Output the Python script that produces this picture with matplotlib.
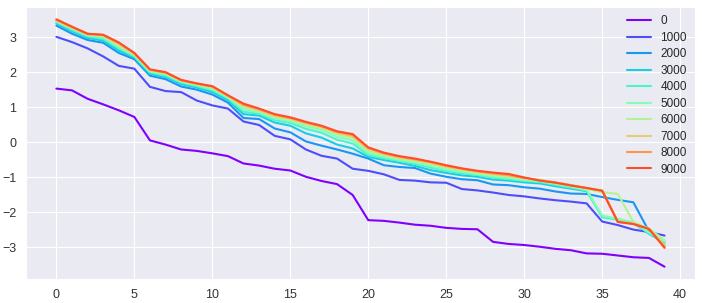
import matplotlib
matplotlib.use('Agg')
import matplotlib.pyplot as plt
import seaborn as sns
import numpy as np

labels = ['0', '1000', '2000', '3000', '4000', '5000', '6000', '7000', '8000', '9000']

s0 = [1.53, 1.48, 1.24, 1.08, 0.91, 0.72, 0.05, -0.07, -0.21, -0.25,
      -0.32, -0.40, -0.61, -0.67, -0.76, -0.81, -0.99, -1.11, -1.20, -1.51,
      -2.23, -2.25, -2.30, -2.36, -2.39, -2.45, -2.48, -2.49, -2.85, -2.91,
      -2.94, -2.99, -3.05, -3.09, -3.18, -3.19, -3.24, -3.29, -3.31, -3.56]
s1000 = [3.01, 2.86, 2.68, 2.45, 2.18, 2.10, 1.58, 1.46, 1.43, 1.19,
         1.05, 0.96, 0.59, 0.49, 0.18, 0.08, -0.21, -0.39, -0.47, -0.76,
         -0.82, -0.92, -1.08, -1.10, -1.15, -1.16, -1.34, -1.38, -1.44, -1.51,
         -1.55, -1.61, -1.66, -1.70, -1.75, -2.27, -2.37, -2.50, -2.57, -2.67]
s2000 = [3.33, 3.10, 2.92, 2.84, 2.55, 2.37, 1.90, 1.80, 1.59, 1.50,
         1.36, 1.13, 0.69, 0.66, 0.39, 0.28, 0.02, -0.10, -0.21, -0.33,
         -0.47, -0.66, -0.71, -0.74, -0.90, -0.99, -1.06, -1.09, -1.21, -1.23,
         -1.29, -1.33, -1.41, -1.47, -1.48, -1.57, -1.65, -1.72, -2.55, -2.95]
s3000 = [3.39, 3.17, 2.98, 2.90, 2.62, 2.42, 1.95, 1.86, 1.66, 1.56,
         1.43, 1.20, 0.80, 0.76, 0.56, 0.47, 0.25, 0.13, -0.07, -0.18,
         -0.42, -0.51, -0.59, -0.68, -0.80, -0.88, -0.95, -0.99, -1.07, -1.10,
         -1.15, -1.18, -1.26, -1.33, -1.40, -2.12, -2.20, -2.31, -2.62, -2.87]
s4000 = [3.43, 3.21, 3.02, 2.95, 2.68, 2.45, 1.99, 1.90, 1.70, 1.60,
         1.48, 1.25, 0.87, 0.81, 0.63, 0.55, 0.38, 0.27, 0.07, -0.04,
         -0.37, -0.46, -0.54, -0.62, -0.73, -0.82, -0.89, -0.94, -1.02, -1.06,
         -1.11, -1.14, -1.22, -1.30, -1.38, -2.15, -2.22, -2.30, -2.60, -2.82]
s5000 = [3.45, 3.24, 3.05, 3.00, 2.72, 2.48, 2.02, 1.94, 1.73, 1.63,
         1.52, 1.28, 0.94, 0.85, 0.68, 0.60, 0.45, 0.35, 0.15, 0.05,
         -0.31, -0.42, -0.51, -0.58, -0.68, -0.78, -0.85, -0.91, -0.98, -1.02,
         -1.08, -1.12, -1.19, -1.27, -1.36, -2.10, -2.19, -2.29, -2.58, -2.85]
s6000 = [3.47, 3.26, 3.07, 3.03, 2.76, 2.50, 2.04, 1.96, 1.75, 1.65,
         1.55, 1.30, 1.00, 0.89, 0.72, 0.64, 0.50, 0.40, 0.22, 0.12,
         -0.25, -0.38, -0.47, -0.54, -0.63, -0.73, -0.81, -0.88, -0.94, -0.99,
         -1.05, -1.10, -1.17, -1.25, -1.34, -1.43, -1.48, -2.28, -2.47, -2.80]
s7000 = [3.48, 3.27, 3.08, 3.05, 2.80, 2.52, 2.06, 1.98, 1.76, 1.66,
         1.57, 1.32, 1.04, 0.92, 0.75, 0.67, 0.54, 0.43, 0.27, 0.17,
         -0.20, -0.34, -0.44, -0.51, -0.59, -0.70, -0.78, -0.85, -0.91, -0.96,
         -1.03, -1.08, -1.15, -1.23, -1.32, -1.38, -2.26, -2.33, -2.48, -2.95]
s8000 = [3.50, 3.29, 3.09, 3.06, 2.83, 2.54, 2.07, 1.99, 1.77, 1.67,
         1.59, 1.33, 1.07, 0.94, 0.78, 0.69, 0.56, 0.45, 0.29, 0.20,
         -0.17, -0.32, -0.42, -0.49, -0.57, -0.68, -0.76, -0.83, -0.89, -0.94,
         -1.02, -1.09, -1.15, -1.23, -1.31, -1.39, -2.28, -2.34, -2.48, -3.03]
s9000 = [3.51, 3.30, 3.10, 3.07, 2.85, 2.55, 2.08, 2.00, 1.78, 1.68,
         1.60, 1.34, 1.10, 0.96, 0.80, 0.71, 0.58, 0.47, 0.31, 0.23,
         -0.15, -0.30, -0.40, -0.47, -0.56, -0.66, -0.75, -0.82, -0.87, -0.91,
         -1.01, -1.10, -1.16, -1.24, -1.31, -1.39, -2.28, -2.34, -2.48, -3.01]

series = [s0, s1000, s2000, s3000, s4000, s5000, s6000, s7000, s8000, s9000]

sns.set_style('darkgrid')
plt.rcParams['font.family'] = ['Liberation Sans', 'DejaVu Sans']

fig = plt.figure(figsize=(7.02, 3.03), dpi=100)
ax = fig.add_axes([0.037, 0.079, 0.953, 0.898])

colors = plt.cm.rainbow(np.arange(len(series)) / 10)
for vals, lab, c in zip(series, labels, colors):
    ax.plot(np.arange(len(vals)), vals, color=c, label=lab, linewidth=1.5)

ax.tick_params(labelsize=9, colors='#333333')
ax.legend(loc='upper right', frameon=False, fontsize=8.5, labelspacing=0.38,
          handlelength=2.0, borderaxespad=0.3)

fig.savefig('out.png', dpi=100)
